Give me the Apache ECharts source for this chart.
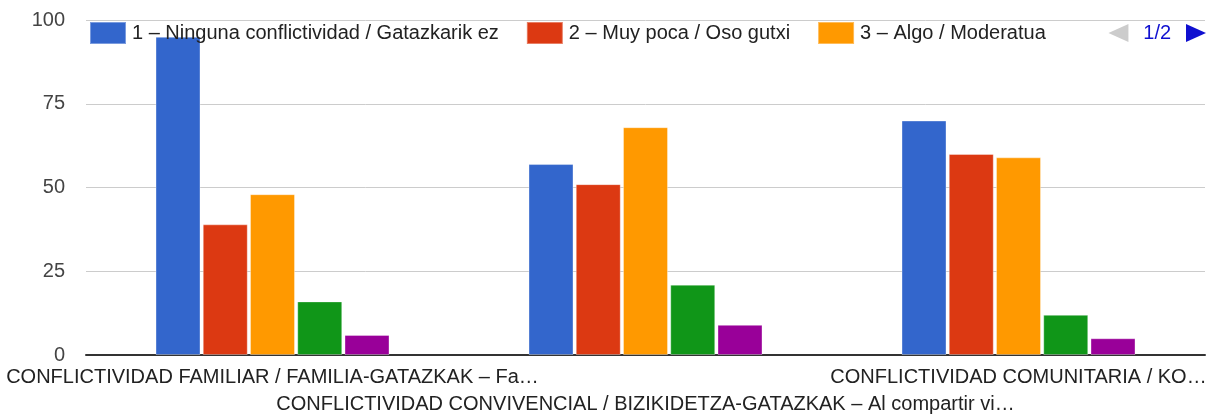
<!DOCTYPE html>
<html>
<head>
<meta charset="utf-8">
<script src="https://cdn.jsdelivr.net/npm/echarts@6/dist/echarts.min.js"></script>
<style>
  html, body { margin: 0; padding: 0; background: #fff; }
  #chart { width: 1211px; height: 414px; }
</style>
</head>
<body>
<div id="chart"></div>
<script>
// categorias (texto recortado como en el original)
const categories = [
  "CONFLICTIVIDAD FAMILIAR / FAMILIA-GATAZKAK – Fa…",
  "CONFLICTIVIDAD CONVIVENCIAL / BIZIKIDETZA-GATAZKAK – Al compartir vi…",
  "CONFLICTIVIDAD COMUNITARIA / KO…"
];
const seriesNames = [
  "1 – Ninguna conflictividad / Gatazkarik ez",
  "2 – Muy poca / Oso gutxi",
  "3 – Algo / Moderatua",
  "4 – Bastante / Nahiko",
  "5 – Mucha / Asko"
];
const ninguna = [95, 57, 70];
const muyPoca = [39, 51, 60];
const algo = [48, 68, 59];
const bastante = [16, 21, 12];
const mucha = [6, 9, 5];
const yTicks = [0, 25, 50, 75, 100];

const colors = ["#3366cc", "#dc3912", "#ff9900", "#109618", "#990099"];
const font = "'Liberation Sans', Arial, sans-serif";

const chart = echarts.init(document.getElementById("chart"));
const values = [ninguna, muyPoca, algo, bastante, mucha];

chart.setOption({
  color: colors,
  animation: false,
  textStyle: { fontFamily: font },
  legend: {
    type: "scroll",
    left: 84,
    right: 3,
    top: 16,
    icon: "rect",
    itemWidth: 36,
    itemHeight: 22,
    itemGap: 27,
    textStyle: { fontSize: 20, color: "#222", fontFamily: font, padding: [0, 0, 0, 1] },
    pageIcons: {
      horizontal: ["path://M0,9L20,0L20,18z", "path://M0,0L20,9L0,18z"]
    },
    pageButtonGap: 50,
    pageIconColor: "#1010d0",
    pageIconInactiveColor: "#cccccc",
    pageIconSize: [20, 18],
    pageButtonItemGap: 6,
    pageTextStyle: { fontSize: 20, color: "#1010d0", fontFamily: font },
    data: seriesNames
  },
  grid: { left: 86, right: 6, top: 20, bottom: 59, outerBoundsMode: "none" },
  xAxis: {
    type: "category",
    data: categories,
    axisTick: { show: false },
    axisLine: { lineStyle: { color: "#333", width: 2 } },
    axisLabel: {
      interval: 0,
      margin: 9,
      fontSize: 20,
      lineHeight: 27,
      color: "#222",
      fontFamily: font,
      formatter: (v, i) => (i % 2 === 1 ? "\n" + v : v)
    }
  },
  yAxis: {
    type: "value",
    min: yTicks[0],
    max: yTicks[yTicks.length - 1],
    interval: 25,
    axisLine: { show: false },
    axisTick: { show: false },
    axisLabel: { fontSize: 20, color: "#444", margin: 21, fontFamily: font },
    splitLine: { lineStyle: { color: "#cccccc", width: 1 } }
  },
  series: seriesNames.map((name, i) => ({
    name: name,
    type: "bar",
    data: values[i],
    barWidth: 45,
    barGap: "5%",
    itemStyle: { borderColor: "rgba(255,255,255,0.35)", borderWidth: 1 }
  }))
});
</script>
</body>
</html>
